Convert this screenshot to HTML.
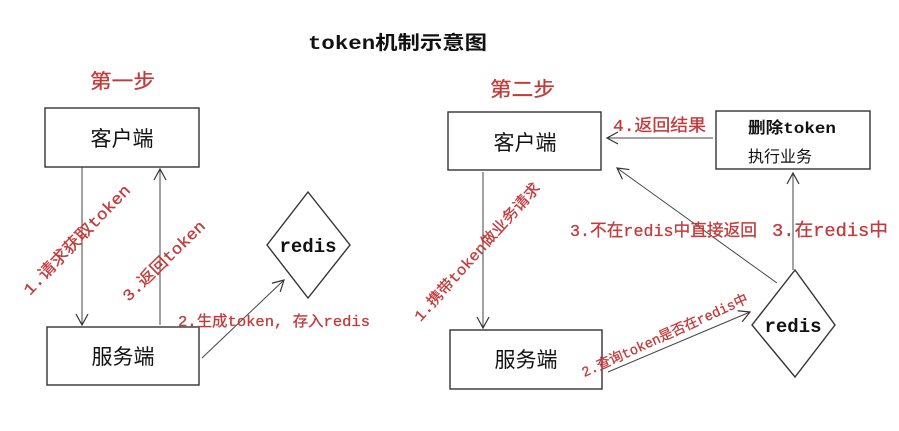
<!DOCTYPE html>
<html><head><meta charset="utf-8"><style>
html,body{margin:0;padding:0;background:#fff;}
svg{display:block;}
text{font-family:"Liberation Mono","Noto Sans CJK SC",monospace;}
.r{fill:#c23b3b;stroke:#c23b3b;stroke-width:0.3;}
.k{fill:#111;}
</style></head><body>
<svg width="899" height="431" viewBox="0 0 899 431" xmlns="http://www.w3.org/2000/svg">
<defs>
<marker id="a" markerWidth="14" markerHeight="14" refX="12" refY="7" orient="auto" markerUnits="userSpaceOnUse">
<path d="M1,1 L12,7 L1,13" fill="none" stroke="#333" stroke-width="1.2"/>
</marker>
</defs>
<g fill="none" stroke="#333" stroke-width="1.4">
<rect x="45" y="108" width="154" height="59"/>
<rect x="47" y="327" width="152" height="58"/>
<polygon points="308,192 350,245 308,298 267,245"/>
<rect x="448" y="112" width="153" height="58"/>
<rect x="450" y="330" width="152" height="59"/>
<rect x="716" y="111" width="154" height="58"/>
<polygon points="795,270 835,325 795,377 752,325"/>
</g>
<g fill="none" stroke="#444" stroke-width="1" marker-end="url(#a)">
<line x1="82" y1="167" x2="82" y2="325"/>
<line x1="160" y1="325" x2="160" y2="169"/>
<line x1="202" y1="358" x2="284" y2="280"/>
<line x1="483" y1="172" x2="483" y2="328"/>
<line x1="608" y1="372" x2="750" y2="312"/>
<line x1="777" y1="283" x2="617" y2="168"/>
<line x1="793" y1="270" x2="793" y2="173"/>
<line x1="713" y1="138" x2="607" y2="138"/>
</g>
<text x="308" y="49" font-size="19" class="k" font-weight="bold" textLength="179" lengthAdjust="spacingAndGlyphs">token机制示意图</text>
<text x="90" y="88" font-size="20" class="r" textLength="65" lengthAdjust="spacingAndGlyphs">第一步</text>
<text x="490" y="96" font-size="20" class="r" textLength="65" lengthAdjust="spacingAndGlyphs">第二步</text>
<text x="122" y="146" font-size="21" class="k" text-anchor="middle">客户端</text>
<text x="123" y="364" font-size="21" class="k" text-anchor="middle">服务端</text>
<text x="525" y="150" font-size="21" class="k" text-anchor="middle">客户端</text>
<text x="526" y="367" font-size="21" class="k" text-anchor="middle">服务端</text>
<text x="308" y="252" font-size="19" class="k" font-weight="bold" text-anchor="middle">redis</text>
<text x="793" y="332" font-size="19" class="k" font-weight="bold" text-anchor="middle">redis</text>
<text x="748" y="133" font-size="16" class="k" font-weight="bold" textLength="88" lengthAdjust="spacingAndGlyphs">删除token</text>
<text x="748" y="162" font-size="16" class="k">执行业务</text>
<text x="613" y="131" font-size="17" class="r" textLength="93" lengthAdjust="spacingAndGlyphs">4.返回结果</text>
<text x="570" y="236" font-size="17" class="r" textLength="187" lengthAdjust="spacingAndGlyphs">3.不在redis中直接返回</text>
<text x="772" y="236" font-size="18" class="r" textLength="116" lengthAdjust="spacingAndGlyphs">3.在redis中</text>
<text x="178" y="326" font-size="15" class="r" textLength="192" lengthAdjust="spacingAndGlyphs">2.生成token, 存入redis</text>
<g transform="translate(77,240) rotate(-46)"><text x="0" y="5" font-size="16" class="r" text-anchor="middle" textLength="146" lengthAdjust="spacingAndGlyphs">1.请求获取token</text></g>
<g transform="translate(164,261) rotate(-44)"><text x="0" y="5" font-size="16" class="r" text-anchor="middle" textLength="108" lengthAdjust="spacingAndGlyphs">3.返回token</text></g>
<g transform="translate(477,252) rotate(-48)"><text x="0" y="5" font-size="15" class="r" text-anchor="middle" textLength="180" lengthAdjust="spacingAndGlyphs">1.携带token做业务请求</text></g>
<g transform="translate(665,336) rotate(-24.5)"><text x="0" y="4" font-size="14" class="r" text-anchor="middle" textLength="181" lengthAdjust="spacingAndGlyphs">2.查询token是否在redis中</text></g>
</svg>
</body></html>
